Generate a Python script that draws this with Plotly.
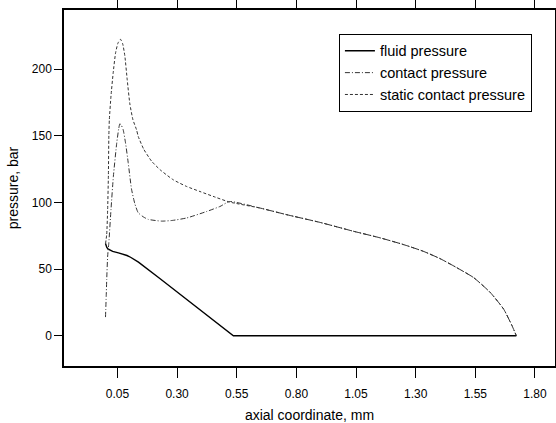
import plotly.graph_objects as go

# x: axial coordinate (mm), y: pressure (bar)
fluid_x = [0.0, 0.002, 0.005, 0.010, 0.019, 0.030, 0.054, 0.075, 0.090, 0.105, 0.120, 0.138, 0.229, 0.536, 1.722]
fluid_y = [69.2, 67.6, 66.4, 65.2, 64.2, 63.3, 62.2, 61.2, 60.2, 58.9, 57.3, 55.2, 42.8, 0.0, 0.0]

contact_x = [0.0, 0.003, 0.005, 0.009, 0.014, 0.023, 0.033, 0.047, 0.055, 0.060, 0.066,
             0.074, 0.084, 0.095, 0.109, 0.123, 0.137, 0.160, 0.179, 0.235, 0.280,
             0.341, 0.425, 0.480, 0.520]
contact_y = [14.0, 30.0, 42.0, 59.8, 69.9, 94.8, 119.7, 144.6, 155.0, 159.0, 158.0,
             154.6, 144.6, 130.0, 110.0, 99.0, 92.3, 89.0, 87.3, 86.0, 86.5,
             88.4, 93.3, 97.0, 100.7]

static_x = [0.0, 0.005, 0.009, 0.012, 0.014, 0.016, 0.023, 0.032, 0.042, 0.052, 0.063,
            0.072, 0.081, 0.091, 0.102, 0.115, 0.130, 0.137, 0.160, 0.193, 0.229,
            0.284, 0.340, 0.396, 0.460, 0.520, 0.648, 0.760, 0.900, 1.039, 1.150,
            1.249, 1.330, 1.403, 1.473, 1.543, 1.613, 1.669, 1.704, 1.722]
static_y = [69.0, 76.0, 95.0, 120.0, 150.0, 162.0, 180.0, 197.0, 212.0, 219.5, 222.4,
            219.0, 210.0, 192.0, 174.0, 162.0, 154.6, 149.6, 140.0, 131.0, 124.5,
            117.0, 112.0, 108.2, 104.0, 100.3, 95.8, 90.8, 85.0, 78.4, 73.5,
            68.4, 63.5, 57.8, 51.0, 43.6, 32.4, 19.9, 7.5, 0.0]

# contact pressure follows the static contact pressure after joining it
contact_full_x = contact_x + [v for v in static_x if v > 0.52]
contact_full_y = contact_y + [static_y[i] for i, v in enumerate(static_x) if v > 0.52]

x_ticks = [0.05, 0.30, 0.55, 0.80, 1.05, 1.30, 1.55, 1.80]
y_ticks = [0, 50, 100, 150, 200]

fig = go.Figure()
fig.add_trace(go.Scatter(x=fluid_x, y=fluid_y, mode='lines', name='fluid pressure',
                         line=dict(color='black', width=1.4)))
fig.add_trace(go.Scatter(x=contact_full_x, y=contact_full_y, mode='lines', name='contact pressure',
                         line=dict(color='#333333', width=1, dash='5px,2px,1px,2px',
                                   shape='spline', smoothing=0.5)))
fig.add_trace(go.Scatter(x=static_x, y=static_y, mode='lines', name='static contact pressure',
                         line=dict(color='#333333', width=1, dash='3px,2px',
                                   shape='spline', smoothing=0.5)))

fig.update_layout(
    width=556, height=423,
    margin=dict(l=64, r=1, t=10, b=57),
    plot_bgcolor='white', paper_bgcolor='white',
    font=dict(family='Liberation Sans, Arial, sans-serif', size=12, color='black'),
    legend=dict(x=0.953, xanchor='right', y=0.933, yanchor='top',
                bordercolor='black', borderwidth=1, bgcolor='white',
                font=dict(size=14.5), tracegroupgap=0),
    showlegend=True,
)
fig.update_xaxes(range=[-0.174, 1.884], tickvals=x_ticks, tickformat='.2f',
                 ticks='outside', ticklen=10, tickcolor='black', tickwidth=1,
                 showline=True, linecolor='black', linewidth=1.5, mirror='ticks',
                 showgrid=False, zeroline=False, automargin=False, ticklabelstandoff=6,
                 title=dict(text='axial coordinate, mm', font=dict(size=14), standoff=16))
fig.update_yaxes(range=[-22.7, 244.4], tickvals=y_ticks,
                 ticks='outside', ticklen=8, tickcolor='black', tickwidth=1,
                 showline=True, linecolor='black', linewidth=1.5, mirror='ticks',
                 showgrid=False, zeroline=False, automargin=False,
                 title=dict(text='pressure, bar', font=dict(size=14), standoff=10))

fig.write_html("out.html")
